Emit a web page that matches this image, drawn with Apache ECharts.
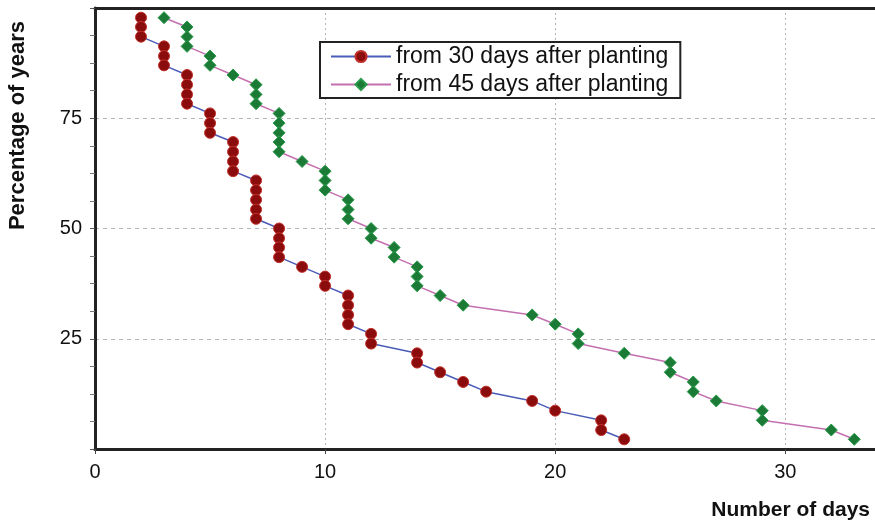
<!DOCTYPE html>
<html>
<head>
<meta charset="utf-8">
<script src="https://cdn.jsdelivr.net/npm/echarts@6/dist/echarts.min.js"></script>
<style>html,body{margin:0;padding:0;background:#fff}#c{width:875px;height:524px}</style>
</head>
<body>
<div id="c"></div>
<script>
// Days (x) for each year
const days30 = [2,2,2,3,3,3,4,4,4,4,5,5,5,6,6,6,6,7,7,7,7,7,8,8,8,8,9,10,10,11,11,11,11,12,12,14,14,15,16,17,19,20,22,22,23];
const days45 = [3,4,4,4,5,5,6,7,7,7,8,8,8,8,8,9,10,10,10,11,11,11,12,12,13,13,14,14,14,15,16,19,20,21,21,23,25,25,26,26,27,29,29,32,33];
// Percentage of years (y)
const pct30 = [97.8,95.7,93.5,91.3,89.1,87.0,84.8,82.6,80.4,78.3,76.1,73.9,71.7,69.6,67.4,65.2,63.0,60.9,58.7,56.5,54.3,52.2,50.0,47.8,45.7,43.5,41.3,39.1,37.0,34.8,32.6,30.4,28.3,26.1,23.9,21.7,19.6,17.4,15.2,13.0,10.9,8.7,6.5,4.3,2.2];
const pct45 = [97.8,95.7,93.5,91.3,89.1,87.0,84.8,82.6,80.4,78.3,76.1,73.9,71.7,69.6,67.4,65.2,63.0,60.9,58.7,56.5,54.3,52.2,50.0,47.8,45.7,43.5,41.3,39.1,37.0,34.8,32.6,30.4,28.3,26.1,23.9,21.7,19.6,17.4,15.2,13.0,10.9,8.7,6.5,4.3,2.2];
const seriesNames = ['from 30 days after planting','from 45 days after planting'];
const xTicks = [0,10,20,30];
const yTicks = [25,50,75];

const font = 'Liberation Sans, Arial, sans-serif';
const chart = echarts.init(document.getElementById('c'), null, {renderer:'canvas'});
const pair = (xs, ys) => xs.map((x,i)=>[x, ys[i]]);
chart.setOption({
  animation:false,
  backgroundColor:'#fff',
  grid:{left:95,right:0,top:8,bottom:75,containLabel:false,outerBoundsMode:'none'},
  legend:{
    orient:'vertical', left:320, top:42,
    padding:[3,12,2,10], itemGap:5, itemWidth:60, itemHeight:14,
    borderColor:'#222', borderWidth:2, backgroundColor:'#fff',
    textStyle:{fontFamily:font, fontSize:23, color:'#111'},
    data:seriesNames
  },
  xAxis:[{
    type:'value', min:0, max:33.9, interval:10,
    name:'Number of days', nameLocation:'end', nameGap:-5,
    nameTextStyle:{fontFamily:font, fontSize:21, fontWeight:'bold', color:'#111', align:'right', verticalAlign:'top', padding:[51,0,0,0]},
    axisLine:{lineStyle:{color:'#222', width:3}},
    axisTick:{show:true, inside:false, length:5, lineStyle:{color:'#444'}},
    axisLabel:{fontFamily:font, fontSize:20, color:'#111', margin:13, showMaxLabel:false,
      formatter:v=> xTicks.includes(v)? String(v):''},
    splitLine:{show:true, lineStyle:{color:'#b5b5b5', type:[2,3], width:1}}
  },{
    type:'value', position:'top', min:0, max:33.9,
    axisLine:{show:true, lineStyle:{color:'#222', width:3}},
    axisTick:{show:false}, axisLabel:{show:false}, splitLine:{show:false}
  }],
  yAxis:{
    type:'value', min:0, max:100, interval:25,
    name:'Percentage of years', nameLocation:'middle', nameGap:66, nameRotate:90,
    nameTextStyle:{fontFamily:font, fontSize:22, fontWeight:'bold', color:'#111', padding:[0,0,0,206]},
    axisLine:{show:true, lineStyle:{color:'#222', width:3}},
    axisTick:{show:true, inside:false, length:5, lineStyle:{color:'#555'}},
    minorTick:{show:true, splitNumber:4, length:5, lineStyle:{color:'#777'}},
    axisLabel:{fontFamily:font, fontSize:20, color:'#111', margin:13,
      formatter:v=> yTicks.includes(v)? String(v):''},
    splitLine:{show:true, lineStyle:{color:'#b5b5b5', type:[4,4], width:1}}
  },
  series:[{
    name:seriesNames[0], type:'line', data:pair(days30,pct30),
    symbol:'circle', symbolSize:11,
    lineStyle:{color:'#4a5cb8', width:1.5},
    itemStyle:{color:'#8a0c0c', borderColor:'#c0302a', borderWidth:1}
  },{
    name:seriesNames[1], type:'line', data:pair(days45,pct45),
    symbol:'diamond', symbolSize:12,
    lineStyle:{color:'#c46fb0', width:1.5},
    itemStyle:{color:'#1a7a36', borderColor:'#2a9a4a', borderWidth:1}
  }]
});
</script>
</body>
</html>
